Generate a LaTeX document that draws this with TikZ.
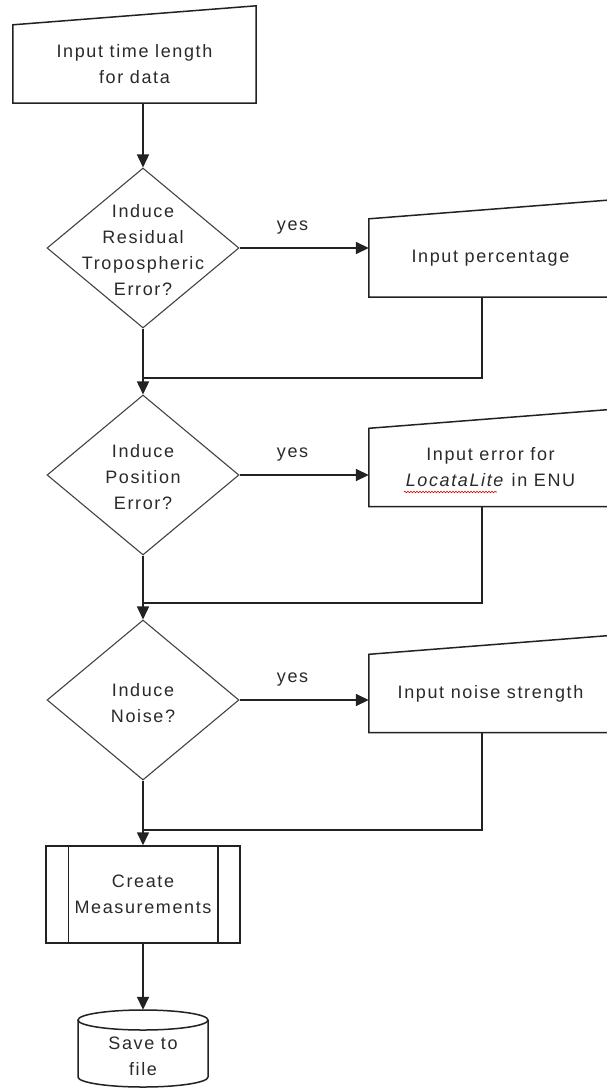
\documentclass[tikz,border=0pt]{standalone}
\usepackage{fontspec}
\setmainfont{Liberation Sans}[LetterSpace=9]
\usetikzlibrary{arrows.meta,shapes.geometric,decorations.pathmorphing}
\definecolor{ink}{HTML}{222222}
\definecolor{txt}{HTML}{2A2A2A}
\begin{document}
\begin{tikzpicture}[x=1pt,y=-1pt,
  every node/.style={font=\fontsize{18}{26}\selectfont, text=txt, align=center, inner sep=0pt},
  area/.style={minimum width=243pt, minimum height=78pt},
  shapeline/.style={draw=ink, line width=1.5pt, line join=miter},
  dia/.style={shape=diamond, draw=ink!85, line width=1.1pt, minimum width=192pt, minimum height=160pt},
  conn/.style={draw=ink, line width=1.6pt},
  arr/.style={conn, -{Triangle[length=13pt,width=12pt]}},
  lbl/.style={above=13pt}
]
\clip (0,0) rectangle (607,1088);
\fill[white] (0,0) rectangle (607,1088);

% manual input boxes
\node[area] (b1) at (134.5,64) {Input time length\\for data};
\draw[shapeline] (b1.north west) -- (b1.south west) -- (b1.south east) -- ([yshift=19pt]b1.north east) -- cycle;
\node[area] (b2) at (490.5,258) {Input percentage};
\draw[shapeline] (b2.north west) -- (b2.south west) -- (b2.south east) -- ([yshift=19pt]b2.north east) -- cycle;
\node[area] (b3) at (490.5,467.5) {Input error for\\\textit{LocataLite} in ENU};
\draw[shapeline] (b3.north west) -- (b3.south west) -- (b3.south east) -- ([yshift=19pt]b3.north east) -- cycle;
\draw[red!85!black, line width=0.6pt, decorate, decoration={snake, amplitude=0.8pt, segment length=3pt}] (404,492) -- (497,492);
\node[area] (b4) at (490.5,693.5) {Input noise strength};
\draw[shapeline] (b4.north west) -- (b4.south west) -- (b4.south east) -- ([yshift=19pt]b4.north east) -- cycle;

% decisions
\node[dia] (d1) at (143,248) {};
\node (d1t) at (143,250) {Induce\\Residual\\Tropospheric\\Error?};
\node[dia] (d2) at (143,475) {};
\node (d2t) at (143,477) {Induce\\Position\\Error?};
\node[dia] (d3) at (143,700) {};
\node (d3t) at (143,703) {Induce\\Noise?};

% predefined process
\node[draw=ink, line width=1.5pt, minimum width=194pt, minimum height=97pt] (cm) at (143,894.5) {Create\\Measurements};
\draw[shapeline] ([xshift=23pt]cm.north west) -- ([xshift=23pt]cm.south west);
\draw[shapeline] ([xshift=-23pt]cm.north east) -- ([xshift=-23pt]cm.south east);

% storage
\node[minimum width=130pt, minimum height=77pt] (sf) at (143,1048.5) {};
\draw[shapeline, fill=white] (78,1020) -- (78,1077) arc[start angle=180, end angle=0, x radius=65, y radius=10] -- (208,1020);
\draw[shapeline] (143,1020) ellipse [x radius=65, y radius=10];
\node (sft) at (143,1056) {Save to\\file};

% junctions
\coordinate (j1) at (143,378);
\coordinate (j2) at (143,603);
\coordinate (j3) at (143,830);

% connectors
\draw[arr] (b1.south -| d1.north) -- (d1.north);
\draw[arr] (d1.east) -- (d1.east -| b2.west) node[lbl, pos=0.41] (y1) {yes};
\draw[arr] (d2.east) -- (d2.east -| b3.west) node[lbl, pos=0.41] (y2) {yes};
\draw[arr] (d3.east) -- (d3.east -| b4.west) node[lbl, pos=0.41] (y3) {yes};
\draw[conn] ([xshift=-8.5pt]b2.south) |- (j1);
\draw[conn] ([xshift=-8.5pt]b3.south) |- (j2);
\draw[conn] ([xshift=-8.5pt]b4.south) |- (j3);
\draw[arr] (d1.south) -- (d2.north);
\draw[arr] (d2.south) -- (d3.north);
\draw[arr] (d3.south) -- (cm.north);
\draw[arr] (cm.south) -- (sf.north);
\end{tikzpicture}
\end{document}
